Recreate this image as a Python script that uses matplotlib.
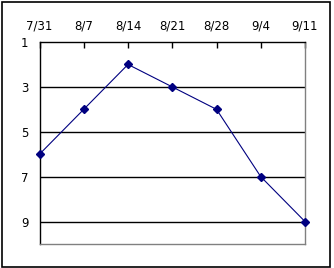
import matplotlib
matplotlib.use("Agg")
import matplotlib.pyplot as plt
from matplotlib.patches import Rectangle

dates = ["7/31", "8/7", "8/14", "8/21", "8/28", "9/4", "9/11"]
ranks = [6, 4, 2, 3, 4, 7, 9]
yticks = [1, 3, 5, 7, 9]

W, H = 334, 268
fig = plt.figure(figsize=(W / 100, H / 100), dpi=100)
fig.patches.append(Rectangle((1.5 / W, 1.5 / H), (330 - 1.5) / W, (266 - 1.5) / H,
                             transform=fig.transFigure, fill=False,
                             edgecolor="black", linewidth=1.2))

ax = fig.add_axes([39.5 / W, (H - 244) / H, (305 - 39.5) / W, (244 - 42) / H])
x = list(range(len(dates)))
ax.plot(x, ranks, color="#000080", linewidth=0.8, marker="D", markersize=4.5,
        markerfacecolor="#000080", markeredgecolor="#000080", clip_on=False, zorder=3)

ax.set_xlim(0, len(dates) - 1)
ax.set_ylim(10, 1)
ax.set_yticks(yticks)
ax.set_yticklabels([str(v) for v in yticks])
ax.set_xticks(x)
ax.set_xticklabels(dates)
ax.xaxis.tick_top()
ax.tick_params(axis="x", direction="in", length=4, width=1, pad=7, labelsize=8.5)
ax.tick_params(axis="y", length=0, pad=8, labelsize=8.5)
for v in yticks[1:]:
    ax.axhline(v, color="black", linewidth=1, zorder=1)
ax.spines["top"].set_color("black")
ax.spines["left"].set_color("black")
ax.spines["right"].set_color("#808080")
ax.spines["bottom"].set_color("#808080")
for s in ax.spines.values():
    s.set_linewidth(1)

fig.savefig("out.png", dpi=100)
